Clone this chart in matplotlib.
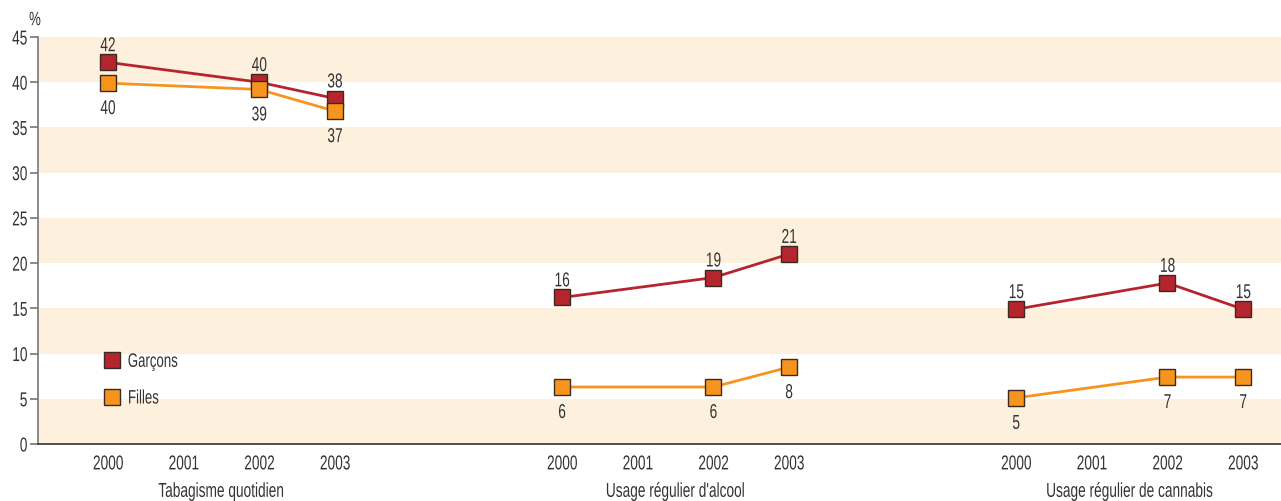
import matplotlib
matplotlib.use('Agg')
import matplotlib.pyplot as plt
from matplotlib.lines import Line2D
from matplotlib.patheffects import AbstractPathEffect
from matplotlib.transforms import Affine2D, blended_transform_factory

plt.rcParams['font.family'] = ['Liberation Sans', 'DejaVu Sans']

years = ['2000', '2001', '2002', '2003']
categories = ['Tabagisme quotidien', "Usage régulier d'alcool", 'Usage régulier de cannabis']
group_years = [2000, 2002, 2003]

garcons = [[42.2, 40.0, 38.2], [16.2, 18.4, 21.0], [14.9, 17.8, 14.9]]
garcons_lbl = [['42', '40', '38'], ['16', '19', '21'], ['15', '18', '15']]
filles = [[39.9, 39.2, 36.8], [6.3, 6.3, 8.5], [5.1, 7.4, 7.4]]
filles_lbl = [['40', '39', '37'], ['6', '6', '8'], ['5', '7', '7']]

RED = '#b5252d'
ORANGE = '#f7941d'
BAND = '#fdf0dc'
EDGE = '#3b2a22'
TXT = '#333333'
FS = 14.5
SX = 0.68


class Squeeze(AbstractPathEffect):
    """Narrow the drawn text horizontally (the source uses a condensed face)."""

    def __init__(self, sx=SX, anchor='center'):
        super().__init__()
        self.sx = sx
        self.anchor = anchor

    def draw_path(self, renderer, gc, tpath, affine, rgbFace=None):
        bb = tpath.get_extents(affine)
        cx = {'center': (bb.x0 + bb.x1) / 2, 'left': bb.x0, 'right': bb.x1}[self.anchor]
        aff = affine + Affine2D().translate(-cx, 0).scale(self.sx, 1).translate(cx, 0)
        renderer.draw_path(gc, tpath, aff, rgbFace)


fig = plt.figure(figsize=(12.81, 5.01), dpi=100)
ax = fig.add_axes([38 / 1281, 1 - 444 / 501, 1 - 38 / 1281, (444 - 37) / 501])

for lo in range(0, 45, 10):
    ax.axhspan(lo, lo + 5, color=BAND, lw=0, zorder=0)

gap = 6
for g in range(3):
    xs = [g * gap + (y - 2000) for y in group_years]
    ax.plot(xs, garcons[g], color=RED, lw=2, marker='s', ms=11,
            mfc=RED, mec=EDGE, mew=1, zorder=3)
    ax.plot(xs, filles[g], color=ORANGE, lw=2, marker='s', ms=11,
            mfc=ORANGE, mec=EDGE, mew=1, zorder=3)
    for x, v, t in zip(xs, garcons[g], garcons_lbl[g]):
        ax.annotate(t, (x, v), xytext=(0, 8), textcoords='offset points',
                    ha='center', va='baseline', fontsize=FS, color=TXT,
                    path_effects=[Squeeze()])
    for x, v, t in zip(xs, filles[g], filles_lbl[g]):
        ax.annotate(t, (x, v), xytext=(0, -22.3), textcoords='offset points',
                    ha='center', va='baseline', fontsize=FS, color=TXT,
                    path_effects=[Squeeze()])

xt = [g * gap + i for g in range(3) for i in range(4)]
ax.set_xticks(xt)
ax.set_xticklabels(years * 3, fontsize=FS, color=TXT)
ax.tick_params(axis='x', length=0, pad=7.5)

trans = blended_transform_factory(ax.transData, ax.transAxes)
for g, name in enumerate(categories):
    ax.text(g * gap + 1.5, -0.093, name, transform=trans, ha='center', va='top',
            fontsize=FS, color=TXT, path_effects=[Squeeze()])

ax.set_ylim(0, 45)
ax.set_xlim(-0.925, 15.5)
ax.set_yticks(range(0, 46, 5))
ax.tick_params(axis='y', length=6, width=1.2, color='#777777', labelsize=FS,
               labelcolor=TXT, pad=1.5)
ax.text(-3 / 1243, 1.04, '%', transform=ax.transAxes, ha='center', va='center',
        fontsize=FS - 0.5, color=TXT, path_effects=[Squeeze()])

for s in ['top', 'right']:
    ax.spines[s].set_visible(False)
ax.spines['left'].set_color('#777777')
ax.spines['left'].set_linewidth(1.2)
ax.spines['bottom'].set_color('#333333')
ax.spines['bottom'].set_linewidth(1.2)

for lbl in ax.get_xticklabels():
    lbl.set_path_effects([Squeeze()])
for lbl in ax.get_yticklabels():
    lbl.set_path_effects([Squeeze(anchor='right')])

handles = [Line2D([], [], ls='none', marker='s', ms=11, mfc=RED, mec=EDGE, mew=1),
           Line2D([], [], ls='none', marker='s', ms=11, mfc=ORANGE, mec=EDGE, mew=1)]
leg = ax.legend(handles, ['Garçons', 'Filles'], loc='upper left',
                bbox_to_anchor=(0.036, 0.266), frameon=False, fontsize=FS - 0.5,
                handletextpad=0.2, labelspacing=0.98, handlelength=1.2,
                labelcolor=TXT)
for t in leg.get_texts():
    t.set_path_effects([Squeeze(anchor='left')])

fig.savefig('out.png', dpi=100)
